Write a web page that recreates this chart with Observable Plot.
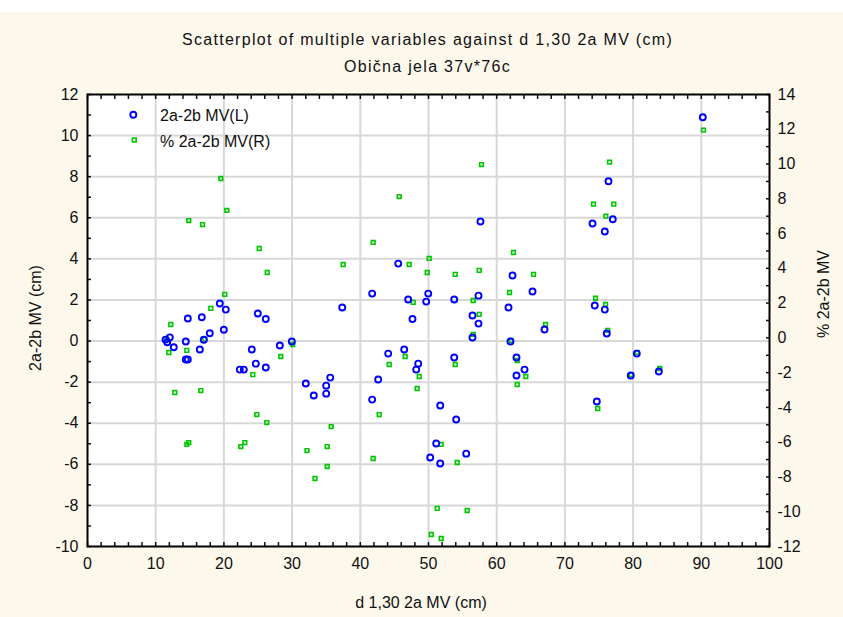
<!DOCTYPE html>
<html><head><meta charset="utf-8">
<script src="https://cdn.jsdelivr.net/npm/d3@7"></script>
<script src="https://cdn.jsdelivr.net/npm/@observablehq/plot@0.6"></script>
<style>
html,body{margin:0;padding:0;}
body{width:843px;height:617px;background:#fdf8ec;position:relative;overflow:hidden;font-family:"Liberation Sans",Arial,sans-serif;color:#111;}
#strip{position:absolute;left:0;top:0;width:843px;height:12px;background:#fff;}
.ttl{position:absolute;left:6px;width:843px;text-align:center;font-size:16px;letter-spacing:1.3px;line-height:18px;}
#title{top:31px;}
#subtitle{top:58px;}
#chart{position:absolute;left:0;top:80px;}
</style></head><body>
<div id="strip"></div>
<div class="ttl" id="title">Scatterplot of multiple variables against d 1,30 2a MV (cm)</div>
<div class="ttl" id="subtitle">Obična jela 37v*76c</div>
<div id="chart"></div>
<script>
const xDomain = [0, 100];
const yLDomain = [-10, 12];
const yRDomain = [-12, 14];
const xTicks = [0, 10, 20, 30, 40, 50, 60, 70, 80, 90, 100];
const leftTicks = [-10, -8, -6, -4, -2, 0, 2, 4, 6, 8, 10, 12];
const rightTicks = [-12, -10, -8, -6, -4, -2, 0, 2, 4, 6, 8, 10, 12, 14];
const seriesNames = ["2a-2b MV(L)", "% 2a-2b MV(R)"];

const blueX = [11.44,12.07,11.69,12.65,14.41,14.71,14.41,14.71,16.76,17.05,
16.47,17.93,19.40,20.28,19.99,24.97,26.14,24.09,24.68,22.33,
22.92,26.14,28.20,29.96,32.01,33.18,35.00,35.00,35.59,37.35,
41.74,45.56,47.02,47.65,41.74,42.62,44.09,46.44,48.49,48.20,
49.66,49.96,53.77,53.77,51.72,54.06,51.13,50.25,51.72,55.53,
57.62,57.33,56.45,57.33,56.45,61.73,62.32,62.02,62.90,64.08,
62.90,65.25,67.01,74.05,74.38,74.68,75.85,75.85,76.14,76.39,
77.02,79.66,80.54,83.77,90.22];
const blueY = [0.07,0.18,-0.06,-0.30,-0.02,1.10,-0.90,-0.90,1.16,0.06,
-0.41,0.38,1.83,1.53,0.55,1.34,1.07,-0.41,-1.10,-1.39,
-1.39,-1.29,-0.22,-0.02,-2.07,-2.65,-2.17,-2.56,-1.78,1.63,
2.31,3.77,2.02,1.07,-2.85,-1.87,-0.61,-0.41,-1.10,-1.39,
1.92,2.31,2.02,-0.80,-3.14,-3.82,-4.99,-5.67,-5.96,-5.48,
5.82,2.21,1.24,0.85,0.17,1.63,3.19,-0.02,-0.80,-1.39,
-1.68,2.41,0.56,5.72,1.73,-2.94,5.33,1.53,0.37,7.78,
5.93,-1.68,-0.61,-1.48,10.89];
const greenX = [19.55,20.43,14.85,16.87,25.18,26.35,20.13,18.08,12.21,11.63,
17.20,11.92,14.56,12.80,16.61,14.56,14.85,22.48,23.06,24.82,
26.29,24.24,28.34,30.10,32.18,33.36,57.77,45.70,41.89,37.49,
47.17,50.10,49.81,53.92,57.43,62.46,65.40,61.88,47.76,56.55,
57.43,56.55,62.13,63.01,64.27,63.01,53.92,48.64,48.34,46.58,
44.24,42.77,41.89,35.73,35.15,35.15,51.86,54.21,51.28,55.67,
50.40,51.86,90.32,76.54,74.19,77.17,76.00,74.49,75.96,67.16,
76.29,80.60,79.72,83.91,74.82];
const greenY = [9.17,7.33,6.75,6.52,5.14,3.76,2.50,1.70,0.77,-0.07,
-0.07,-0.84,-0.72,-3.14,-3.03,-6.13,-6.02,-6.25,-6.02,-4.41,
-4.87,-2.11,-1.07,-0.38,-6.48,-8.09,9.97,8.13,5.49,4.22,
4.22,4.57,3.76,3.65,3.88,4.91,3.65,2.61,2.04,2.15,
1.35,0.20,-0.15,-1.30,-2.22,-2.68,-1.53,-2.22,-2.91,-1.07,
-1.53,-4.41,-6.94,-5.10,-6.25,-7.40,-6.13,-7.17,-9.81,-9.93,
-11.31,-11.54,11.95,10.11,7.69,7.69,7.00,2.28,1.92,0.77,
0.43,-0.84,-2.11,-1.76,-4.06];

// map right-axis values onto the left scale and back
const toL = r => yLDomain[0] + (r - yRDomain[0]) * (yLDomain[1] - yLDomain[0]) / (yRDomain[1] - yRDomain[0]);
const fromL = l => yRDomain[0] + (l - yLDomain[0]) * (yRDomain[1] - yRDomain[0]) / (yLDomain[1] - yLDomain[0]);

const blue = blueX.map((x, i) => ({x, v: blueY[i]}));
const green = greenX.map((x, i) => ({x, v: greenY[i]}));

const BLUE = "#0000ff", GREEN = "#00c800", GRID = "#d8d8d8";
const FONT = "Liberation Sans, Arial, sans-serif";
const fmt = d => String(d);
const blank = () => "";

const plot = Plot.plot({
  width: 843, height: 537,
  marginLeft: 87, marginRight: 74, marginTop: 14, marginBottom: 71,
  style: {background: "transparent", fontFamily: FONT, fontSize: "16px", color: "#111", overflow: "visible"},
  x: {domain: xDomain, label: null},
  y: {domain: yLDomain, label: null},
  marks: [
    Plot.frame({fill: "white", stroke: null}),
    Plot.gridX(xTicks.slice(1, -1), {stroke: GRID, strokeOpacity: 1, strokeWidth: 2}),
    Plot.gridY(leftTicks.slice(1, -1), {stroke: GRID, strokeOpacity: 1, strokeWidth: 2}),
    Plot.axisX(xTicks, {anchor: "bottom", tickSize: 0, tickPadding: 11, tickFormat: fmt}),
    Plot.axisX(d3.range(0, 101, 2), {anchor: "bottom", tickSize: -4, tickFormat: blank, strokeWidth: 1.5}),
    Plot.axisX(d3.range(0, 101, 2), {anchor: "top", tickSize: -4, tickFormat: blank, strokeWidth: 1.5}),
    Plot.axisY(leftTicks, {anchor: "left", tickSize: 0, tickPadding: 9, tickFormat: fmt}),
    Plot.axisY(d3.range(-10, 13, 1), {anchor: "left", tickSize: -4, tickFormat: blank, strokeWidth: 1.5}),
    Plot.axisY(rightTicks.map(toL), {anchor: "right", tickSize: 0, tickPadding: 8, tickFormat: l => String(Math.round(fromL(l)))}),
    Plot.axisY(d3.range(-12, 15, 1).map(toL), {anchor: "right", tickSize: -4, tickFormat: blank, strokeWidth: 1.5}),
    Plot.dot(green, {x: "x", y: d => toL(d.v), symbol: "square", r: 2.1, stroke: GREEN, strokeWidth: 1.6, fill: "none"}),
    Plot.dot(blue, {x: "x", y: "v", r: 3, stroke: BLUE, strokeWidth: 1.9, fill: "none"}),
    Plot.frame({stroke: "#000", strokeWidth: 2})
  ]
});

const svg = d3.select(plot);
const g = svg.append("g").attr("font-family", FONT).attr("font-size", 16).attr("fill", "#111");
const T0 = 80;
g.append("text").attr("x", 421).attr("y", 602 - T0).attr("text-anchor", "middle")
  .attr("dominant-baseline", "central").text("d 1,30 2a MV (cm)");
g.append("text").attr("transform", `translate(35,${318 - T0}) rotate(-90)`).attr("text-anchor", "middle")
  .attr("dominant-baseline", "central").text("2a-2b MV (cm)");
g.append("text").attr("transform", `translate(823,${294 - T0}) rotate(-90)`).attr("text-anchor", "middle")
  .attr("dominant-baseline", "central").text("% 2a-2b MV");
// legend
g.append("circle").attr("cx", 133.3).attr("cy", 114.7 - T0).attr("r", 3)
  .attr("fill", "none").attr("stroke", BLUE).attr("stroke-width", 1.9);
g.append("rect").attr("x", 134.3 - 1.9).attr("y", 140 - T0 - 1.9).attr("width", 3.8).attr("height", 3.8)
  .attr("fill", "none").attr("stroke", GREEN).attr("stroke-width", 1.6);
g.append("text").attr("x", 160).attr("y", 115 - T0).attr("text-anchor", "start")
  .attr("dominant-baseline", "central").text(seriesNames[0]);
g.append("text").attr("x", 160).attr("y", 141 - T0).attr("text-anchor", "start")
  .attr("dominant-baseline", "central").text(seriesNames[1]);

document.getElementById("chart").appendChild(plot);
</script>
</body></html>
